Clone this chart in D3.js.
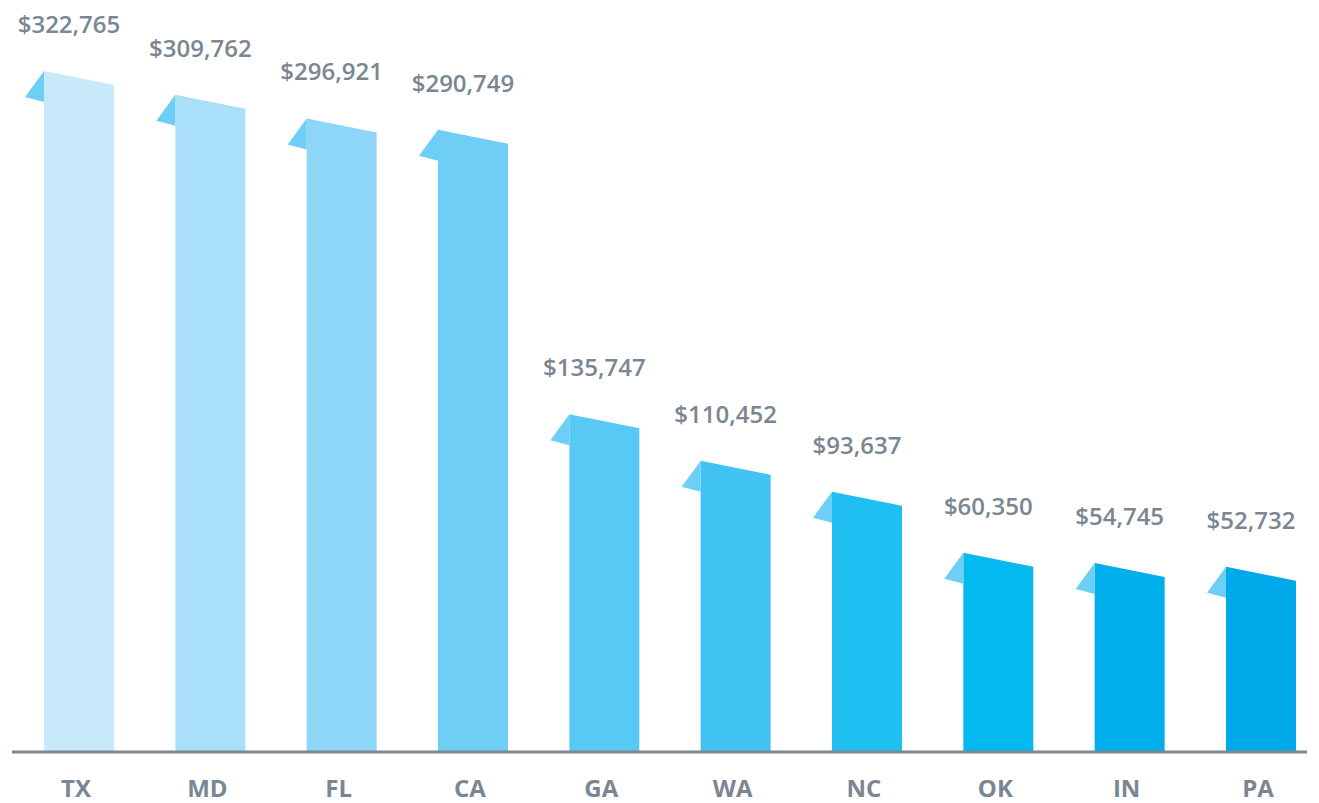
<!DOCTYPE html>
<html lang="en">
<head>
    <title>Top states</title>
    <script src="https://d3js.org/d3.v7.min.js"></script>
    <style>
        body { margin: 0; background: #fff; }
        .val { font-family: "Open Sans", sans-serif; font-size: 24px; font-weight: 600; fill: #7a8793; }
        .cat { font-family: "Open Sans", sans-serif; font-size: 24px; font-weight: bold; fill: #7a8793; }
    </style>
</head>
<body>

<script>
    const states = ["TX", "MD", "FL", "CA", "GA", "WA", "NC", "OK", "IN", "PA"];
    const values = [322765, 309762, 296921, 290749, 135747, 110452, 93637, 60350, 54745, 52732];
    const colors = ["#c7e9f9", "#aadff9", "#8dd6f7", "#6fcef6", "#58c9f5",
                    "#40c3f3", "#1fc0f1", "#03b9ef", "#00afec", "#00a9ea"];
    const foldColor = "#6dcff6";

    const width = 1319, height = 803, base = 751;

    const svg = d3.select("body").append("svg")
        .attr("width", width).attr("height", height);

    const x = d3.scaleBand().domain(states).range([44, 1296])
        .paddingInner(0.467).paddingOuter(0);
    const y = d3.scaleLinear().domain([-40000, 322765]).range([base, 85]);

    const slant = 14;
    const fmt = d3.format("$,");

    const g = svg.selectAll("g.bar")
        .data(states).enter()
        .append("g").attr("class", "bar");

    // bar body with sloped top
    g.append("path")
        .attr("fill", (d, i) => colors[i])
        .attr("d", (d, i) => {
            const x0 = x(d), x1 = x0 + x.bandwidth(), yr = y(values[i]);
            return `M${x0},${base}L${x0},${yr - slant}L${x1},${yr}L${x1},${base}Z`;
        });

    // folded corner
    g.append("path")
        .attr("fill", foldColor)
        .attr("d", (d, i) => {
            const x0 = x(d), yl = y(values[i]) - slant;
            return `M${x0},${yl}L${x0 - 19},${yl + 26}L${x0},${yl + 31}Z`;
        });

    g.append("text").attr("class", "val")
        .attr("text-anchor", "middle")
        .attr("x", d => x(d) + x.bandwidth() / 2 - 10)
        .attr("y", (d, i) => y(values[i]) - slant - 38)
        .text((d, i) => fmt(values[i]));

    svg.append("line")
        .attr("x1", 12).attr("x2", 1307)
        .attr("y1", base + 1).attr("y2", base + 1)
        .attr("stroke", "#7b8894").attr("stroke-width", 3);

    g.append("text").attr("class", "cat")
        .attr("text-anchor", "middle")
        .attr("x", d => x(d) + x.bandwidth() / 2 - 3)
        .attr("y", 797)
        .text(d => d);
</script>

</body>
</html>
